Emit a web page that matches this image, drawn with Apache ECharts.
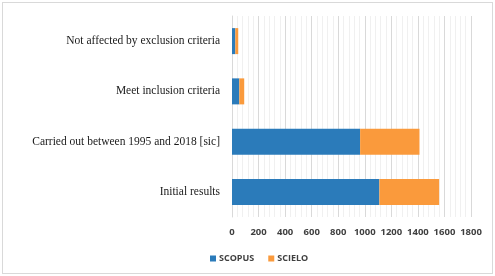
<!DOCTYPE html>
<html>
<head>
<meta charset="utf-8">
<script src="https://cdn.jsdelivr.net/npm/echarts@6/dist/echarts.min.js"></script>
<style>
html, body { margin: 0; padding: 0; background: #fff; }
#frame { position: absolute; left: 2px; top: 2px; width: 489px; height: 270px; border: 1px solid #d9d9d9; }
#chart { width: 495px; height: 276px; }
</style>
</head>
<body>
<div id="frame"></div>
<div id="chart"></div>
<script>
var categories = [
    'Initial results',
    'Carried out between 1995 and 2018 [sic]',
    'Meet inclusion criteria',
    'Not affected by exclusion criteria'
]
var scopus = [1110, 965, 55, 25]
var scielo = [450, 447, 37, 22]
var color_list = ['#2b7bba', '#fa9a3c']

var option = {
    color: color_list,
    animation: false,
    grid: {
        left: 232,
        right: 24,
        top: 16,
        bottom: 59,
    },
    legend: {
        bottom: 8,
        left: 205,
        itemWidth: 6,
        itemHeight: 6,
        itemGap: 14,
        icon: 'rect',
        textStyle: {
            fontFamily: 'Open Sans',
            fontSize: 9,
            fontWeight: 'bold',
            color: '#404040',
            padding: [0, 0, 0, -2],
        },
        data: ['SCOPUS', 'SCIELO']
    },
    xAxis: {
        type: 'value',
        min: 0,
        max: 1800,
        interval: 200,
        axisLine: { show: false },
        axisTick: { show: false },
        axisLabel: {
            fontFamily: 'Open Sans',
            fontSize: 9.5,
            fontWeight: 'bold',
            color: '#404040',
            margin: 10,
            formatter: function (v) { return String(v) },
        },
        splitLine: { lineStyle: { color: '#d9d9d9', width: 1 } },
        minorTick: { show: false, splitNumber: 5 },
        minorSplitLine: { show: true, lineStyle: { color: '#f0f0f0', width: 1 } },
    },
    yAxis: {
        type: 'category',
        data: categories,
        axisLine: { show: true, lineStyle: { color: '#d9d9d9' } },
        axisTick: { show: false },
        axisLabel: {
            fontFamily: 'Liberation Serif',
            fontSize: 11.5,
            color: '#1a1a1a',
            margin: 12,
        },
    },
    series: [
        {
            name: 'SCOPUS',
            type: 'bar',
            stack: 'total',
            barWidth: 26,
            data: scopus,
        },
        {
            name: 'SCIELO',
            type: 'bar',
            stack: 'total',
            barWidth: 26,
            data: scielo,
        },
    ]
}

var myChart = echarts.init(document.getElementById('chart'))
myChart.setOption(option, true)
</script>
</body>
</html>
